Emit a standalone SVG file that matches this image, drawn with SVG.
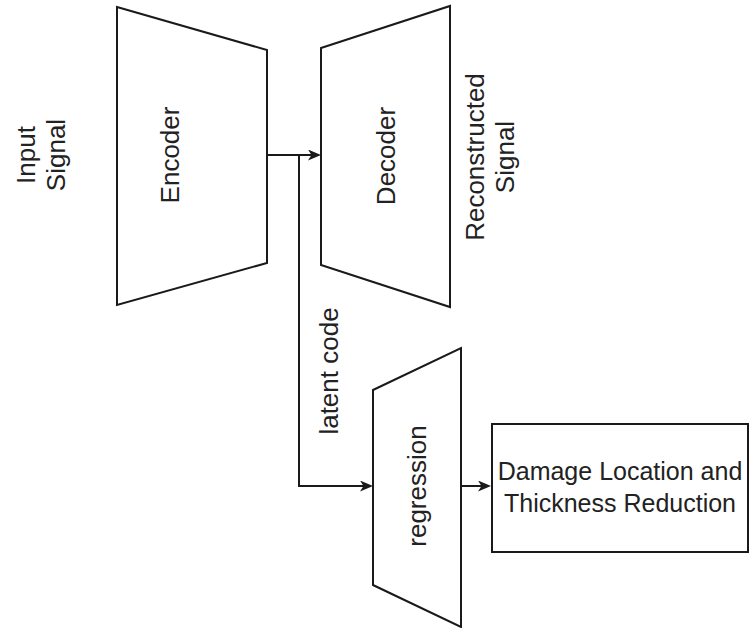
<svg xmlns="http://www.w3.org/2000/svg" width="749" height="628" viewBox="0 0 749 628">
  <style>
    .shape { fill: #ffffff; stroke: #1a1a1a; stroke-width: 2; }
    .edge { fill: none; stroke: #1a1a1a; stroke-width: 2; }
    .lbl { font-family: "Liberation Sans", Arial, sans-serif; font-size: 26px; fill: #222222; text-anchor: middle; }
    .box { font-size: 25px; }
  </style>
  <defs>
    <marker id="arrow" viewBox="0 0 13 11" refX="9" refY="5.5" markerWidth="13" markerHeight="11" markerUnits="userSpaceOnUse" orient="auto">
      <path d="M0,0 L13,5.5 L0,11 L3.5,5.5 Z" fill="#1a1a1a"/>
    </marker>
  </defs>
  <rect width="749" height="628" fill="#ffffff"/>

  <g id="input-signal">
    <g transform="translate(41,155) rotate(-90)">
      <text class="lbl" x="0" y="-6">Input</text>
      <text class="lbl" x="0" y="24">Signal</text>
    </g>
  </g>

  <g id="encoder">
    <polygon class="shape" points="117,7 267,50 267,263 117,305"/>
    <text class="lbl" transform="translate(170,155) rotate(-90)" x="0" y="9">Encoder</text>
  </g>

  <g id="decoder">
    <polygon class="shape" points="321,48 450,6 450,307 321,265"/>
    <text class="lbl" transform="translate(386,156) rotate(-90)" x="0" y="9">Decoder</text>
  </g>

  <g id="reconstructed-signal">
    <g transform="translate(490,157) rotate(-90)">
      <text class="lbl" x="0" y="-6">Reconstructed</text>
      <text class="lbl" x="0" y="24">Signal</text>
    </g>
  </g>

  <g id="regression">
    <polygon class="shape" points="373,390 461,348 461,627 373,585"/>
    <text class="lbl" transform="translate(417,486) rotate(-90)" x="0" y="9">regression</text>
  </g>

  <g id="output">
    <rect class="shape" x="492" y="424" width="256" height="128"/>
    <text class="lbl box" x="620" y="480">Damage Location and</text>
    <text class="lbl box" x="620" y="512">Thickness Reduction</text>
  </g>

  <g id="connectors">
    <path class="edge" d="M267,155 H317" marker-end="url(#arrow)"/>
    <path class="edge" d="M299,155 V486 H369" marker-end="url(#arrow)"/>
    <path class="edge" d="M461,486 H487" marker-end="url(#arrow)"/>
    <text class="lbl" transform="translate(329,371) rotate(-90)" x="0" y="9">latent code</text>
  </g>
</svg>
